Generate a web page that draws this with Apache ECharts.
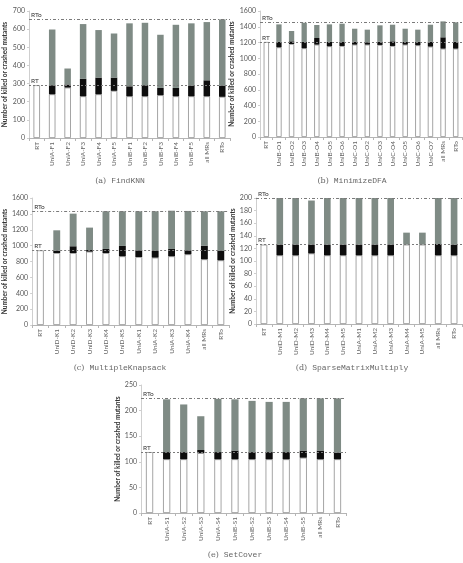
<!DOCTYPE html>
<html>
<head>
<meta charset="utf-8">
<script src="https://cdn.jsdelivr.net/npm/echarts@6/dist/echarts.min.js"></script>
<style>
  html, body { margin: 0; padding: 0; background: #fff; }
  #chart { width: 463px; height: 563px; }
</style>
</head>
<body>
<div id="chart"></div>
<script>
// (a) FindKNN
const catsA = ['RT', 'UniA-F1', 'UniA-F2', 'UniA-F3', 'UniA-F4', 'UniA-F5', 'UniB-F1', 'UniB-F2', 'UniB-F3', 'UniB-F4', 'UniB-F5', 'all MRs', 'RTo']
const whiteA = [291, 241, 278, 230, 241, 260, 230, 230, 236, 230, 230, 230, 227]
const blackTopA = [291, 291, 295, 326, 333, 333, 285, 291, 276, 276, 289, 318, 289]
const totalA = [291, 598, 383, 628, 595, 576, 632, 635, 569, 624, 632, 639, 654]
const refA = [291, 654] // RT, RTo

// (b) MinimizeDFA
const catsB = ['RT', 'UniB-O1', 'UniB-O2', 'UniB-O3', 'UniB-O4', 'UniB-O5', 'UniB-O6', 'UniC-O1', 'UniC-O2', 'UniC-O3', 'UniC-O4', 'UniC-O5', 'UniC-O6', 'UniC-O7', 'all MRs', 'RTo']
const whiteB = [1207, 1139, 1181, 1127, 1173, 1152, 1156, 1173, 1173, 1169, 1156, 1173, 1165, 1148, 1122, 1122]
const blackTopB = [1207, 1207, 1215, 1207, 1257, 1207, 1207, 1211, 1203, 1211, 1215, 1207, 1207, 1211, 1266, 1211]
const totalB = [1207, 1430, 1346, 1451, 1422, 1430, 1439, 1375, 1363, 1418, 1426, 1375, 1363, 1426, 1468, 1456]
const refB = [1207, 1456]

// (c) MultipleKnapsack
const catsC = ['RT', 'UniD-K1', 'UniD-K2', 'UniD-K3', 'UniD-K4', 'UniD-K5', 'UniA-K1', 'UniA-K2', 'UniA-K3', 'UniA-K4', 'all MRs', 'RTo']
const whiteC = [941, 907, 907, 924, 907, 866, 857, 849, 866, 891, 828, 815]
const blackTopC = [941, 937, 992, 945, 958, 996, 941, 933, 958, 941, 1000, 933]
const totalC = [941, 1193, 1403, 1227, 1433, 1433, 1433, 1433, 1440, 1437, 1433, 1433]
const refC = [941, 1433]

// (d) SparseMatrixMultiply
const catsD = ['RT', 'UniD-M1', 'UniD-M2', 'UniD-M3', 'UniD-M4', 'UniD-M5', 'UniA-M1', 'UniA-M2', 'UniA-M3', 'UniA-M4', 'UniA-M5', 'all MRs', 'RTo']
const whiteD = [126, 109, 109, 112, 109, 109, 109, 109, 109, 126, 126, 109, 109]
const blackTopD = [126, 126, 126, 126, 126, 126, 126, 126, 126, 126, 126, 127, 126]
const totalD = [126, 200, 200, 196, 200, 200, 200, 200, 200, 145, 145, 200, 200]
const refD = [126, 200]

// (e) SetCover
const catsE = ['RT', 'UniA-S1', 'UniA-S2', 'UniA-S3', 'UniA-S4', 'UniB-S1', 'UniB-S2', 'UniB-S3', 'UniB-S4', 'UniB-S5', 'all MRs', 'RTo']
const whiteE = [119, 105, 105, 117, 105, 105, 105, 105, 105, 108, 105, 105]
const blackTopE = [119, 119, 119, 123, 119, 122, 119, 119, 119, 122, 122, 118]
const totalE = [119, 222, 212, 189, 223, 222, 219, 217, 217, 224, 224, 224]
const refE = [119, 224]

const yMax = [700, 1600, 1600, 200, 250]
const yStep = [100, 200, 200, 20, 50]
const captionTag = ['(a)', '(b)', '(c)', '(d)', '(e)']
const captionName = ['FindKNN', 'MinimizeDFA', 'MultipleKnapsack', 'SparseMatrixMultiply', 'SetCover']

const panels = [
    { cats: catsA, white: whiteA, blackTop: blackTopA, total: totalA, ref: refA },
    { cats: catsB, white: whiteB, blackTop: blackTopB, total: totalB, ref: refB },
    { cats: catsC, white: whiteC, blackTop: blackTopC, total: totalC, ref: refC },
    { cats: catsD, white: whiteD, blackTop: blackTopD, total: totalD, ref: refD },
    { cats: catsE, white: whiteE, blackTop: blackTopE, total: totalE, ref: refE }
]

// layout (pixels)
const layout = [
    { left: 27, top: 11, width: 203, height: 127, nameGap: 21, cx: 115, cy: 179 },
    { left: 260, top: 11, width: 202, height: 126, nameGap: 22, cx: 347, cy: 179 },
    { left: 29, top: 198, width: 200, height: 127, nameGap: 22, cx: 115, cy: 366 },
    { left: 256, top: 198, width: 206, height: 126, nameGap: 18, cx: 347, cy: 366 },
    { left: 141, top: 385, width: 205, height: 128, nameGap: 20, cx: 230, cy: 553 }
]

const labelFont = 'Lato, "Open Sans", sans-serif'
const grids = []
const xAxes = []
const yAxes = []
const series = []
const titles = []

panels.forEach((p, i) => {
    const l = layout[i]
    grids.push({ left: l.left, top: l.top, width: l.width, height: l.height })
    xAxes.push({
        type: 'category',
        gridIndex: i,
        data: p.cats,
        axisLine: { lineStyle: { color: '#b5b5b5', width: 1 } },
        axisTick: { show: true, length: 3, lineStyle: { color: '#b5b5b5' } },
        axisLabel: { rotate: 90, fontSize: 6.5, color: '#666', margin: 4, fontFamily: labelFont }
    })
    yAxes.push({
        type: 'value',
        gridIndex: i,
        min: 0,
        max: yMax[i],
        interval: yStep[i],
        name: 'Number of killed or crashed mutants',
        nameLocation: 'middle',
        nameGap: l.nameGap,
        nameTextStyle: { fontSize: 6.5, fontWeight: 'bold', color: '#333', fontFamily: labelFont },
        axisLine: { show: true, lineStyle: { color: '#cfcfcf' } },
        axisTick: { show: true, length: 2, lineStyle: { color: '#cfcfcf' } },
        splitLine: { show: false },
        axisLabel: { fontSize: 7, color: '#595959', margin: 4, fontFamily: labelFont, formatter: (v) => String(v) }
    })
    const stack = 'p' + i
    const mid = p.blackTop.map((v, k) => v - p.white[k])
    const top = p.total.map((v, k) => v - p.blackTop[k])
    series.push({
        type: 'bar',
        xAxisIndex: i,
        yAxisIndex: i,
        stack: stack,
        barWidth: '42%',
        data: p.white,
        itemStyle: { color: '#ffffff', borderColor: '#8e8e8e', borderWidth: 0.8 },
        markLine: {
            silent: true,
            symbol: 'none',
            z: 10,
            label: { position: 'insideStartTop', fontSize: 6.5, color: '#333', distance: [2, 1], fontFamily: labelFont },
            data: [
                { yAxis: p.ref[0], name: 'RT', label: { formatter: 'RT' }, lineStyle: { type: [2, 2], color: '#7a7a7a', width: 1 } },
                { yAxis: p.ref[1], name: 'RTo', label: { formatter: 'RTo' }, lineStyle: { type: [3, 2, 1, 2], color: '#7a7a7a', width: 1 } }
            ]
        }
    })
    series.push({
        type: 'bar',
        xAxisIndex: i,
        yAxisIndex: i,
        stack: stack,
        barWidth: '42%',
        data: mid,
        itemStyle: { color: '#0d0d0d' }
    })
    series.push({
        type: 'bar',
        xAxisIndex: i,
        yAxisIndex: i,
        stack: stack,
        barWidth: '42%',
        data: top,
        itemStyle: { color: '#7f8b85' }
    })
    titles.push({
        text: '{t|' + captionTag[i] + '} {n|' + captionName[i] + '}',
        left: l.cx,
        top: l.cy - 12,
        textAlign: 'center',
        textStyle: {
            fontWeight: 'normal',
            rich: {
                t: { fontSize: 8, color: '#666', fontWeight: 'normal', fontFamily: '"DejaVu Serif", serif' },
                n: { fontSize: 8, color: '#666', fontWeight: 'normal', fontFamily: '"Liberation Mono", "DejaVu Sans Mono", monospace' }
            }
        }
    })
})

const chart = echarts.init(document.getElementById('chart'))
chart.setOption({
    animation: false,
    title: titles,
    grid: grids,
    xAxis: xAxes,
    yAxis: yAxes,
    series: series
})
</script>
</body>
</html>
